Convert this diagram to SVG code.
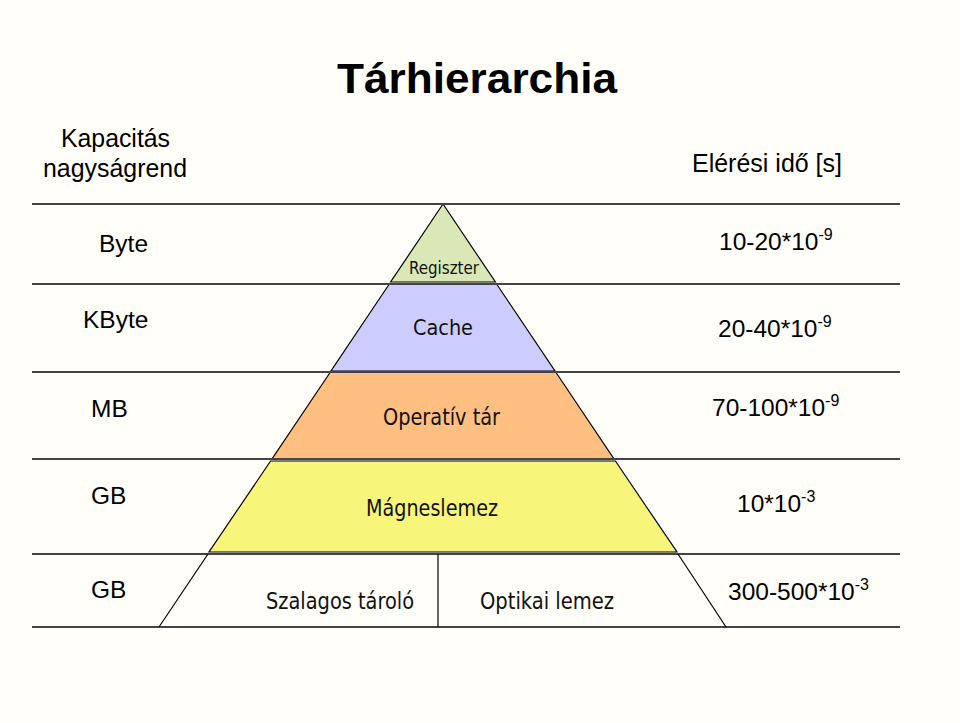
<svg xmlns="http://www.w3.org/2000/svg" width="960" height="723" viewBox="0 0 960 723">
<style>
.t{font-family:"Liberation Sans",Arial,sans-serif;fill:#000}
.p{font-family:"DejaVu Sans Condensed","DejaVu Sans",sans-serif;fill:#111}
.hl{stroke:#444;stroke-width:1.8;fill:none}
.edge{stroke:#000;stroke-width:1.2;fill:none}
.layer{stroke:#000;stroke-width:1.2}
.sup{font-size:16px}
</style>
<rect x="0" y="0" width="960" height="723" fill="#fffef8"/>
<text class="t" x="337" y="93" font-size="42" font-weight="bold" textLength="280" lengthAdjust="spacingAndGlyphs">Tárhierarchia</text>
<text class="t" x="61" y="147" font-size="25" textLength="109" lengthAdjust="spacingAndGlyphs">Kapacitás</text>
<text class="t" x="43" y="177" font-size="25" textLength="144" lengthAdjust="spacingAndGlyphs">nagyságrend</text>
<text class="t" x="692" y="172" font-size="25" textLength="150" lengthAdjust="spacingAndGlyphs">Elérési idő [s]</text>

<g id="layers">
<g id="regiszter">
<polygon class="layer" fill="#d9e8b4" points="443,204 390.6,282 495.4,282"/>
<text class="p" x="444" y="274" font-size="17" text-anchor="middle" textLength="70" lengthAdjust="spacingAndGlyphs">Regiszter</text>
</g>
<g id="cache">
<polygon class="layer" fill="#ccccff" points="389.3,284 496.6,284 555,371 331,371"/>
<text class="p" x="443" y="335" font-size="22" text-anchor="middle" textLength="60" lengthAdjust="spacingAndGlyphs">Cache</text>
</g>
<g id="operativ">
<polygon class="layer" fill="#ffbf80" points="330.4,372 555.7,372 614,459 272,459"/>
<text class="p" x="441.5" y="425" font-size="23" text-anchor="middle" textLength="117" lengthAdjust="spacingAndGlyphs">Operatív tár</text>
</g>
<g id="magneslemez">
<polygon class="layer" fill="#f7f57a" points="270.6,461 615.4,461 677,552 209,552"/>
<text class="p" x="432" y="516" font-size="23" text-anchor="middle" textLength="132" lengthAdjust="spacingAndGlyphs">Mágneslemez</text>
</g>
<g id="szalagos">
<text class="p" x="340" y="609" font-size="23" text-anchor="middle" textLength="148" lengthAdjust="spacingAndGlyphs">Szalagos tároló</text>
</g>
<g id="optikai">
<text class="p" x="547" y="609" font-size="23" text-anchor="middle" textLength="134" lengthAdjust="spacingAndGlyphs">Optikai lemez</text>
</g>
</g>

<g id="connectors">
<line class="hl" x1="32" y1="204" x2="900" y2="204"/>
<line class="hl" x1="32" y1="284" x2="900" y2="284"/>
<line class="hl" x1="32" y1="372" x2="900" y2="372"/>
<line class="hl" x1="32" y1="459" x2="900" y2="459"/>
<line class="hl" x1="32" y1="554" x2="900" y2="554"/>
<line class="hl" x1="32" y1="627" x2="900" y2="627"/>
<line class="edge" x1="208" y1="554" x2="159" y2="627"/>
<line class="edge" x1="678" y1="554" x2="726" y2="627"/>
<line class="edge" x1="438" y1="554" x2="438" y2="627"/>
</g>

<g id="capacity">
<text class="t" x="99" y="252" font-size="24.5">Byte</text>
<text class="t" x="83" y="328" font-size="24.5">KByte</text>
<text class="t" x="91" y="417" font-size="24.5">MB</text>
<text class="t" x="91" y="504" font-size="24.5">GB</text>
<text class="t" x="91" y="598" font-size="24.5">GB</text>
</g>

<g id="access">
<text class="t" x="719" y="250" font-size="24.5">10-20*10<tspan class="sup" dy="-10">-9</tspan></text>
<text class="t" x="718" y="337" font-size="24.5">20-40*10<tspan class="sup" dy="-10">-9</tspan></text>
<text class="t" x="712" y="416" font-size="24.5">70-100*10<tspan class="sup" dy="-10">-9</tspan></text>
<text class="t" x="737" y="512" font-size="24.5">10*10<tspan class="sup" dy="-10">-3</tspan></text>
<text class="t" x="728" y="600" font-size="24.5">300-500*10<tspan class="sup" dy="-10">-3</tspan></text>
</g>
</svg>
